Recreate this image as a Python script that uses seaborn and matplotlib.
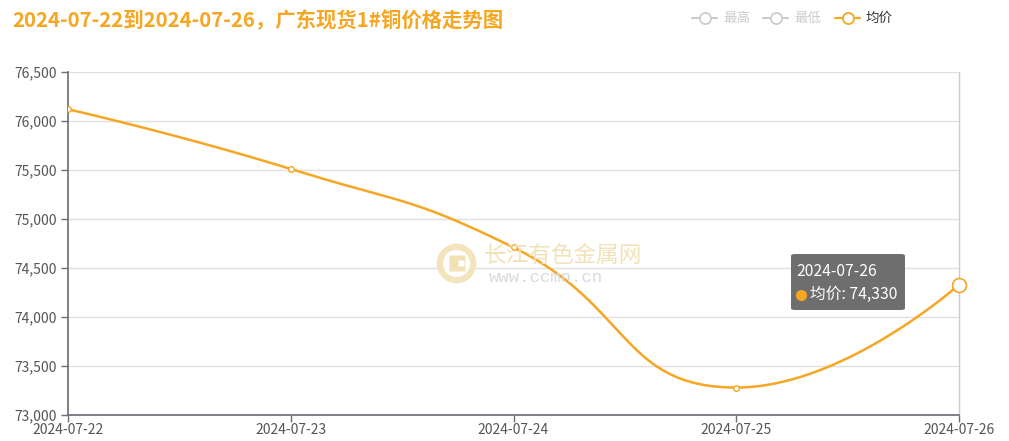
import numpy as np
import pandas as pd
import seaborn as sns
import matplotlib.pyplot as plt
from matplotlib.lines import Line2D
from matplotlib.patches import FancyBboxPatch

# data
dates = ['2024-07-22', '2024-07-23', '2024-07-24', '2024-07-25', '2024-07-26']
avg_price = [76120, 75510, 74710, 73280, 74330]
legend_names = ['最高', '最低', '均价']
title = '2024-07-22到2024-07-26，广东现货1#铜价格走势图'

ORANGE = '#f5a623'
W, H = 1009, 441

sns.set_theme(style='white')
plt.rcParams['font.family'] = ['Noto Sans CJK SC', 'DejaVu Sans']


def fx(px):
    return px / W


def fy(py):
    return 1 - py / H


def clamp(v, a, b):
    return min(max(v, min(a, b)), max(a, b))


# echarts style smoothing (smooth=0.5) with control point clamping, in pixel space
def smooth_line(xs, ys, sx, sy, smooth=0.5, n=40):
    P = np.column_stack([np.array(xs, float) * sx, np.array(ys, float) * sy])
    last = len(P) - 1
    cin = [P[i].copy() for i in range(len(P))]
    cout = [P[i].copy() for i in range(len(P))]
    for i in range(1, last):
        x, y = P[i]
        px_, py_ = P[i - 1]
        nx_, ny_ = P[i + 1]
        vx, vy = nx_ - px_, ny_ - py_
        lp = np.hypot(x - px_, y - py_)
        ln = np.hypot(nx_ - x, ny_ - y)
        r = ln / (ln + lp)
        ncx = clamp(x + vx * smooth * r, nx_, x)
        ncy = clamp(y + vy * smooth * r, ny_, y)
        vx, vy = ncx - x, ncy - y
        c1x = clamp(x - vx * lp / ln, px_, x)
        c1y = clamp(y - vy * lp / ln, py_, y)
        vx, vy = x - c1x, y - c1y
        ncx = x + vx * ln / lp
        ncy = y + vy * ln / lp
        cin[i] = np.array([c1x, c1y])
        cout[i] = np.array([ncx, ncy])
    out = []
    t = np.linspace(0, 1, n)[:, None]
    for i in range(last):
        p0, p3 = P[i], P[i + 1]
        p1, p2 = cout[i], cin[i + 1]
        seg = ((1 - t) ** 3) * p0 + 3 * ((1 - t) ** 2) * t * p1 + 3 * (1 - t) * t ** 2 * p2 + t ** 3 * p3
        out.append(seg if i == 0 else seg[1:])
    out = np.vstack(out)
    return out[:, 0] / sx, out[:, 1] / sy


xpos = np.arange(len(dates))
sx = (959 - 68) / (len(dates) - 1)
sy = 343 / 3500
cx, cy = smooth_line(xpos, avg_price, sx, sy)
curve = pd.DataFrame({'x': cx, 'y': cy})
pts = pd.DataFrame({'x': xpos, 'y': avg_price})

fig = plt.figure(figsize=(W / 100, H / 100), dpi=100)
ax = fig.add_axes([fx(68), fy(415), fx(959) - fx(68), fy(72) - fy(415)])

sns.lineplot(data=curve, x='x', y='y', ax=ax, color=ORANGE, linewidth=1.8,
             sort=False, estimator=None, zorder=3)
sns.scatterplot(data=pts.iloc[:-1], x='x', y='y', ax=ax, s=16, color='white',
                edgecolor=ORANGE, linewidth=1, zorder=4)
sns.scatterplot(data=pts.iloc[-1:], x='x', y='y', ax=ax, s=100, color='white',
                edgecolor=ORANGE, linewidth=1.2, zorder=4, clip_on=False)

ax.set_xlim(0, len(dates) - 1)
ax.set_ylim(73000, 76500)
ax.set_xticks(xpos)
ax.set_xticklabels(dates)
yt = np.arange(73000, 76501, 500)
ax.set_yticks(yt)
ax.set_yticklabels([f'{v:,}' for v in yt])
ax.set_xlabel('')
ax.set_ylabel('')
ax.grid(axis='y', color='#e0e0e0', linewidth=1)
ax.grid(axis='x', visible=False)
ax.set_axisbelow(True)
ax.spines['top'].set_visible(False)
ax.spines['right'].set_color('#cccccc')
ax.spines['right'].set_linewidth(1)
ax.spines['left'].set_color('#6e7079')
ax.spines['bottom'].set_color('#6e7079')
ax.tick_params(axis='both', which='both', length=5, width=1, color='#6e7079',
               labelsize=10, labelcolor='#555555', bottom=True, left=True)
ax.tick_params(axis='x', pad=1)
ax.tick_params(axis='y', pad=3)

# title
fig.text(fx(12), fy(21), title, fontsize=14.7, fontweight='bold', color=ORANGE,
         ha='left', va='center')

# legend
leg_items = [(692, '#cccccc', '#cccccc'), (763, '#cccccc', '#cccccc'), (835, ORANGE, '#333333')]
for (x0, c, tc), name in zip(leg_items, legend_names):
    fig.add_artist(Line2D([fx(x0), fx(x0 + 25)], [fy(18), fy(18)], color=c, linewidth=1.5,
                          transform=fig.transFigure))
    fig.add_artist(Line2D([fx(x0 + 12.5)], [fy(18)], marker='o', markersize=8,
                          markerfacecolor='white', markeredgecolor=c, markeredgewidth=1.3,
                          transform=fig.transFigure))
    fig.text(fx(x0 + 31), fy(18), name, fontsize=9.7, color=tc, ha='left', va='center')

# watermark
WM = '#f2e1b5'
fig.add_artist(Line2D([fx(456)], [fy(263)], marker='o', markersize=24,
                      markerfacecolor='white', markeredgecolor=WM, markeredgewidth=4.5,
                      transform=fig.transFigure, alpha=0.9))
fig.add_artist(Line2D([fx(457)], [fy(263)], marker='s', markersize=11,
                      markerfacecolor=WM, markeredgecolor='none',
                      transform=fig.transFigure))
fig.add_artist(Line2D([fx(461)], [fy(263)], marker='s', markersize=5,
                      markerfacecolor='white', markeredgecolor='none',
                      transform=fig.transFigure))
fig.text(fx(484), fy(255), '长江有色金属网', fontsize=16.3, color=WM,
         ha='left', va='center', alpha=0.95, zorder=5)
fig.text(fx(489), fy(277), 'www.ccmn.cn', fontsize=12.5, color='#dadada',
         ha='left', va='center', family='Liberation Mono', zorder=5)

# tooltip
box = FancyBboxPatch((fx(791), fy(310)), fx(905) - fx(791), fy(254) - fy(310),
                     boxstyle='round,pad=0,rounding_size=0.004', transform=fig.transFigure,
                     facecolor='#6e6e6e', edgecolor='none', zorder=10)
fig.add_artist(box)
fig.text(fx(796), fy(272), '2024-07-26', fontsize=11.3, color='white',
         ha='left', va='center', zorder=11)
fig.add_artist(Line2D([fx(801)], [fy(295)], marker='o', markersize=7, color=ORANGE,
                      linestyle='none', transform=fig.transFigure, zorder=11))
fig.text(fx(810), fy(294), '均价: 74,330', fontsize=11.3, color='white',
         ha='left', va='center', zorder=11)

fig.savefig('out.png', dpi=100)
